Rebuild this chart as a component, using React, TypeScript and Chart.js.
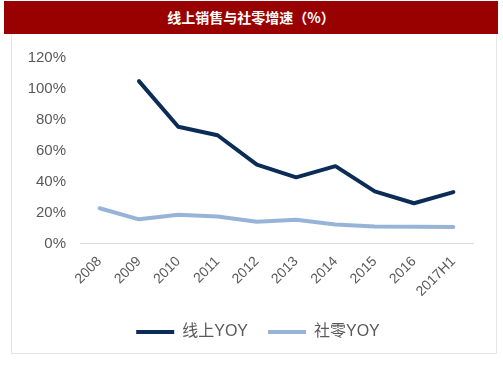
import React, { useEffect, useRef } from "react";
import { Chart, registerables } from "chart.js";

Chart.register(...registerables);

const categories = ["2008", "2009", "2010", "2011", "2012", "2013", "2014", "2015", "2016", "2017H1"];
const onlineYoy = [null, 105, 75.5, 70, 51, 42.8, 50, 33.7, 26, 33.2];
const retailYoy = [22.8, 15.6, 18.5, 17.4, 14.1, 15.3, 12.3, 10.9, 10.8, 10.6];
const seriesNames = ["线上YOY", "社零YOY"];
const yTicks = [0, 20, 40, 60, 80, 100, 120];
const title = "线上销售与社零增速（%）";

const DARK = "#0B2C56";
const LIGHT = "#97B4D8";
const FONT = "Arial, 'Liberation Sans', 'Noto Sans CJK SC', sans-serif";

const legendShift = {
  id: "legendShift",
  afterLayout(chart: any) {
    if (chart.legend) {
      chart.legend.left += 16;
      chart.legend.right += 16;
      chart.legend.top += 2;
      chart.legend.bottom += 2;
    }
  },
};

export default function App() {
  const ref = useRef<HTMLCanvasElement | null>(null);

  useEffect(() => {
    if (!ref.current) return;
    const chart = new Chart(ref.current, {
      type: "line",
      plugins: [legendShift],
      data: {
        labels: categories,
        datasets: [
          {
            label: seriesNames[0],
            data: onlineYoy,
            borderColor: DARK,
            backgroundColor: DARK,
            borderWidth: 4,
            pointRadius: 0,
            tension: 0,
            borderJoinStyle: "round",
            borderCapStyle: "round",
          },
          {
            label: seriesNames[1],
            data: retailYoy,
            borderColor: LIGHT,
            backgroundColor: LIGHT,
            borderWidth: 4,
            pointRadius: 0,
            tension: 0,
            borderJoinStyle: "round",
            borderCapStyle: "round",
          },
        ],
      },
      options: {
        responsive: false,
        animation: false,
        layout: { padding: { top: 24, right: 23, bottom: 5, left: 0 } },
        plugins: {
          title: { display: false },
          tooltip: { enabled: false },
          legend: {
            position: "bottom",
            labels: {
              font: { family: FONT, size: 16 },
              color: "#595959",
              boxWidth: 38,
              boxHeight: 4,
              padding: 20,
              generateLabels: (c: any) =>
                c.data.datasets.map((ds: any, i: number) => ({
                  text: ds.label,
                  fillStyle: ds.borderColor,
                  strokeStyle: ds.borderColor,
                  lineWidth: 0,
                  fontColor: "#595959",
                  hidden: false,
                  datasetIndex: i,
                })),
            },
          },
        },
        scales: {
          x: {
            offset: true,
            grid: { display: false },
            border: { display: true, color: "#D9D9D9", width: 1 },
            ticks: {
              font: { family: FONT, size: 14 },
              color: "#595959",
              minRotation: 45,
              maxRotation: 45,
              padding: 2,
            },
          },
          y: {
            min: 0,
            max: 120,
            afterBuildTicks: (s: any) => {
              s.ticks = yTicks.map((v) => ({ value: v }));
            },
            afterFit: (s: any) => {
              s.width = 69;
            },
            grid: { display: false },
            border: { display: false },
            ticks: {
              font: { family: FONT, size: 15 },
              color: "#595959",
              padding: 6,
              callback: (v: any) => v + "%",
            },
          },
        },
      },
    });
    return () => chart.destroy();
  }, []);

  return (
    <div style={{ position: "absolute", left: 0, top: 0, width: 503, height: 378, background: "#fff", overflow: "hidden" }}>
      <div
        style={{
          position: "absolute",
          left: 4,
          top: 1,
          width: 494,
          height: 33,
          background: "#990000",
          color: "#fff",
          fontFamily: "'Noto Sans CJK SC', sans-serif",
          fontWeight: "bold",
          fontSize: 14,
          lineHeight: "33px",
          textAlign: "center",
        }}
      >
        {title}
      </div>
      <div
        style={{
          position: "absolute",
          left: 11,
          top: 34,
          width: 484,
          height: 319,
          borderLeft: "1px solid #E6E6E6",
          borderRight: "1px solid #E6E6E6",
          borderBottom: "1px solid #E6E6E6",
        }}
      />
      <canvas ref={ref} width={485} height={319} style={{ position: "absolute", left: 11, top: 34 }} />
    </div>
  );
}
